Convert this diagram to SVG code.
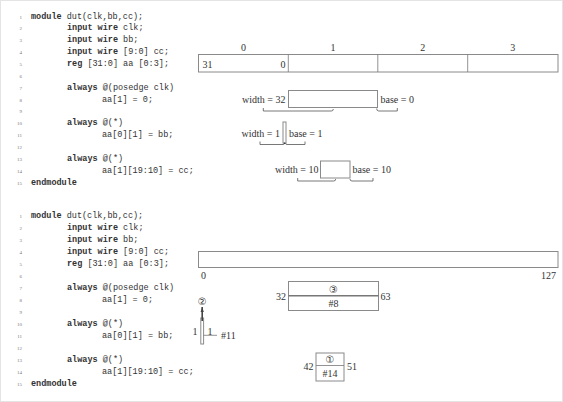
<svg xmlns="http://www.w3.org/2000/svg" width="563" height="402" viewBox="0 0 563 402">
<style>
.c{font-family:"Liberation Mono","DejaVu Sans Mono",monospace;font-size:8.5px;fill:#333}
.k{font-weight:bold}
.n{font-family:"Liberation Serif",serif;font-size:5px;fill:#777;text-anchor:end}
.s{font-family:"Liberation Serif","DejaVu Serif",serif;font-size:10px;fill:#333}
.m{text-anchor:middle}
.e{text-anchor:end}
.ci{font-family:"DejaVu Sans","Noto Sans CJK JP",sans-serif;font-size:10px;fill:#333;text-anchor:middle}
.b{fill:#fff;stroke:#8a8a8a;stroke-width:1}
.br{fill:none;stroke:#555;stroke-width:0.8}
.ln{stroke:#777;stroke-width:0.8;fill:none}
</style>
<rect x="0.5" y="0.5" width="562" height="401" fill="#fff" stroke="#e4e4e4"/>

<g id="code-top">
<text class="n" x="22" y="18.5">1</text>
<text class="n" x="22" y="30.4">2</text>
<text class="n" x="22" y="42.2">3</text>
<text class="n" x="22" y="54.1">4</text>
<text class="n" x="22" y="65.9">5</text>
<text class="n" x="22" y="77.8">6</text>
<text class="n" x="22" y="89.7">7</text>
<text class="n" x="22" y="101.5">8</text>
<text class="n" x="22" y="113.4">9</text>
<text class="n" x="22" y="125.2">10</text>
<text class="n" x="22" y="137.1">11</text>
<text class="n" x="22" y="149">12</text>
<text class="n" x="22" y="160.8">13</text>
<text class="n" x="22" y="172.7">14</text>
<text class="n" x="22" y="184.5">15</text>
<text class="c" x="31" y="18.5"><tspan class="k">module</tspan> dut(clk,bb,cc);</text>
<text class="c" x="67" y="30.4"><tspan class="k">input wire</tspan> clk;</text>
<text class="c" x="67" y="42.2"><tspan class="k">input wire</tspan> bb;</text>
<text class="c" x="67" y="54.1"><tspan class="k">input wire</tspan> [9:0] cc;</text>
<text class="c" x="67" y="65.9"><tspan class="k">reg</tspan> [31:0] aa [0:3];</text>
<text class="c" x="67" y="89.7"><tspan class="k">always</tspan> @(posedge clk)</text>
<text class="c" x="102" y="101.5">aa[1] = 0;</text>
<text class="c" x="67" y="125.2"><tspan class="k">always</tspan> @(*)</text>
<text class="c" x="102" y="137.1">aa[0][1] = bb;</text>
<text class="c" x="67" y="160.8"><tspan class="k">always</tspan> @(*)</text>
<text class="c" x="102" y="172.7">aa[1][19:10] = cc;</text>
<text class="c" x="31" y="184.5"><tspan class="k">endmodule</tspan></text>
</g>

<g id="array-top">
<rect class="b" x="198.5" y="54.5" width="359.5" height="17.5"/>
<line class="ln" x1="288.3" y1="54.5" x2="288.3" y2="72"/>
<line class="ln" x1="377.8" y1="54.5" x2="377.8" y2="72"/>
<line class="ln" x1="467.7" y1="54.5" x2="467.7" y2="72"/>
<text class="s m" x="243.4" y="51">0</text>
<text class="s m" x="333" y="51">1</text>
<text class="s m" x="422.8" y="51">2</text>
<text class="s m" x="512.8" y="51">3</text>
<text class="s" x="202.5" y="67.5">31</text>
<text class="s e" x="285.5" y="67.5">0</text>
</g>

<g id="slice-w32">
<rect class="b" x="288.5" y="90.5" width="89" height="17"/>
<text class="s e" x="285.5" y="102.5">width<tspan dx="2.5">=</tspan><tspan dx="2.5">32</tspan></text>
<text class="s" x="380.5" y="102.5">base<tspan dx="2.5">=</tspan><tspan dx="2.5">0</tspan></text>
</g>

<g id="slice-w1">
<rect class="b" x="283" y="122" width="3" height="21"/>
<text class="s e" x="280" y="136.5">width<tspan dx="2.5">=</tspan><tspan dx="2.5">1</tspan></text>
<text class="s" x="289" y="136.5">base<tspan dx="2.5">=</tspan><tspan dx="2.5">1</tspan></text>
</g>

<g id="slice-w10">
<rect class="b" x="320.5" y="161" width="29.5" height="17"/>
<text class="s e" x="318.5" y="172.5">width<tspan dx="2.5">=</tspan><tspan dx="2.5">10</tspan></text>
<text class="s" x="352.5" y="172.5">base<tspan dx="2.5">=</tspan><tspan dx="2.5">10</tspan></text>
</g>

<g id="code-bottom">
<text class="n" x="22" y="217.5">1</text>
<text class="n" x="22" y="229.5">2</text>
<text class="n" x="22" y="241.5">3</text>
<text class="n" x="22" y="253.5">4</text>
<text class="n" x="22" y="265.5">5</text>
<text class="n" x="22" y="277.5">6</text>
<text class="n" x="22" y="289.5">7</text>
<text class="n" x="22" y="301.5">8</text>
<text class="n" x="22" y="313.5">9</text>
<text class="n" x="22" y="325.5">10</text>
<text class="n" x="22" y="337.5">11</text>
<text class="n" x="22" y="349.5">12</text>
<text class="n" x="22" y="361.5">13</text>
<text class="n" x="22" y="373.5">14</text>
<text class="n" x="22" y="385.5">15</text>
<text class="c" x="31" y="217.5"><tspan class="k">module</tspan> dut(clk,bb,cc);</text>
<text class="c" x="67" y="229.5"><tspan class="k">input wire</tspan> clk;</text>
<text class="c" x="67" y="241.5"><tspan class="k">input wire</tspan> bb;</text>
<text class="c" x="67" y="253.5"><tspan class="k">input wire</tspan> [9:0] cc;</text>
<text class="c" x="67" y="265.5"><tspan class="k">reg</tspan> [31:0] aa [0:3];</text>
<text class="c" x="67" y="289.5"><tspan class="k">always</tspan> @(posedge clk)</text>
<text class="c" x="102" y="301.5">aa[1] = 0;</text>
<text class="c" x="67" y="325.5"><tspan class="k">always</tspan> @(*)</text>
<text class="c" x="102" y="337.5">aa[0][1] = bb;</text>
<text class="c" x="67" y="361.5"><tspan class="k">always</tspan> @(*)</text>
<text class="c" x="102" y="373.5">aa[1][19:10] = cc;</text>
<text class="c" x="31" y="385.5"><tspan class="k">endmodule</tspan></text>
</g>

<g id="flat-array">
<rect class="b" x="198.5" y="251.5" width="359.5" height="16"/>
<text class="s m" x="203.5" y="279">0</text>
<text class="s e" x="556" y="279">127</text>
</g>

<g id="region-3">
<rect class="b" x="288.5" y="281.5" width="90" height="29"/>
<line x1="288.5" y1="295.8" x2="378.5" y2="295.8" stroke="#777" stroke-width="1.6"/>
<text class="ci" x="333.5" y="292.8">③</text>
<text class="s m" x="333.5" y="306.5">#8</text>
<text class="s e" x="286" y="299.5">32</text>
<text class="s" x="380.5" y="299.5">63</text>
</g>

<g id="region-2">
<text class="ci" x="202.3" y="304.5">②</text>
<rect class="b" x="200.8" y="318" width="2.8" height="26"/>
<text class="s e" x="197.5" y="335">1</text>
<text class="s" x="207.5" y="335">1</text>
<text class="s" x="221" y="339">#11</text>
</g>

<g id="region-1">
<rect class="b" x="316" y="353" width="28" height="28"/>
<line class="ln" x1="316" y1="365.5" x2="344" y2="365.5"/>
<text class="ci" x="330" y="363">①</text>
<text class="s m" x="330" y="377">#14</text>
<text class="s e" x="313.5" y="370">42</text>
<text class="s" x="347" y="370">51</text>
</g>

<g id="connectors">
<path class="br" d="M263.3,108 V111 H331.3 Q333.3,111 333.3,109"/>
<path class="br" d="M376.7,108.5 Q376.7,111 378.7,111 H397.3 V108"/>
<path class="br" d="M260,141.5 V144.5 H283 Q284.5,144.5 284.5,143"/>
<circle cx="284.5" cy="143.3" r="0.8" fill="#333"/>
<path class="br" d="M285.5,143 Q285.5,144.5 287,144.5 H305 V141.5"/>
<path class="br" d="M297.7,178 V181 H333.7 Q335.7,181 335.7,179"/>
<path class="br" d="M350,179 Q350,181 352,181 H373 V178"/>
<line x1="202.2" y1="307" x2="202.2" y2="321" stroke="#444" stroke-width="1.6"/>
<path d="M202.2,307 L200.6,312 L203.8,312 Z" fill="#444"/>
<line class="ln" x1="203.6" y1="335.3" x2="217" y2="335.3"/>
</g>
</svg>
